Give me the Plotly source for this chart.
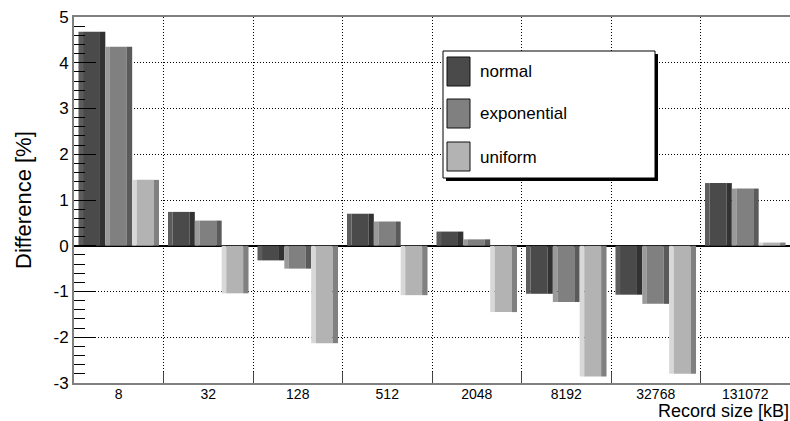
import plotly.graph_objects as go

# ---- data ----
categories = ["8", "32", "128", "512", "2048", "8192", "32768", "131072"]
series_names = ["normal", "exponential", "uniform"]
normal = [4.68, 0.74, -0.32, 0.70, 0.31, -1.05, -1.07, 1.37]
exponential = [4.35, 0.55, -0.50, 0.53, 0.14, -1.23, -1.27, 1.25]
uniform = [1.44, -1.04, -2.13, -1.08, -1.45, -2.86, -2.80, 0.07]
series_values = [normal, exponential, uniform]
y_tick_values = [-3, -2, -1, 0, 1, 2, 3, 4, 5]
y_tick_labels = ["-3", "-2", "-1", "0", "1", "2", "3", "4", "5"]

# colours: (left highlight, body, right shadow)
main_colors = ["#4a4a4a", "#808080", "#b3b3b3"]
left_colors = ["#5c5c5c", "#9a9a9a", "#d8d8d8"]
right_colors = ["#323232", "#5a5a5a", "#808080"]

# ---- layout geometry (pixels) ----
W, H = 790, 421
ML, MR, MT, MB = 74, 0, 17, 38
PW, PH = W - ML - MR, H - MT - MB


def px(x):
    return (x - ML) / PW


def py(y):
    return (H - MB - y) / PH


fig = go.Figure()

bar_w = 0.3
left_frac, right_frac = 0.17, 0.2
start_offsets = [-0.45, -0.15, 0.15]

for i, (name, vals) in enumerate(zip(series_names, series_values)):
    o = start_offsets[i]
    parts = [
        (o, bar_w * left_frac, left_colors[i]),
        (o + bar_w * left_frac, bar_w * (1 - left_frac - right_frac), main_colors[i]),
        (o + bar_w * (1 - right_frac), bar_w * right_frac, right_colors[i]),
    ]
    for off, w, col in parts:
        fig.add_trace(go.Bar(
            x=categories, y=vals, name=name,
            offset=off, width=w,
            marker=dict(color=col, line=dict(width=0)),
            showlegend=False, hoverinfo="x+y+name",
        ))

fig.update_layout(
    width=W, height=H,
    margin=dict(l=ML, r=MR, t=MT, b=MB),
    barmode="overlay",
    paper_bgcolor="white", plot_bgcolor="white",
    font=dict(family="Liberation Sans, Arial, sans-serif", color="black"),
    showlegend=False,
)

fig.update_xaxes(
    type="category", range=[-0.5, 7.5],
    tickson="boundaries", ticks="inside", ticklen=11, tickcolor="#444", tickwidth=1,
    showgrid=True, gridcolor="black", griddash="1px,2px", gridwidth=1,
    showline=True, linecolor="#7f7f7f", linewidth=2, mirror=True,
    tickfont=dict(size=14), ticklabelstandoff=-3,
)
fig.update_yaxes(
    range=[-3, 5], tickmode="array", tickvals=y_tick_values, ticktext=y_tick_labels,
    ticks="inside", ticklen=22, tickcolor="black", tickwidth=1,
    minor=dict(dtick=0.2, tick0=0, ticks="inside", ticklen=11, tickcolor="black", showgrid=False),
    showgrid=True, gridcolor="black", griddash="1px,2px", gridwidth=1,
    zeroline=True, zerolinecolor="black", zerolinewidth=2,
    showline=True, linecolor="#7f7f7f", linewidth=2, mirror=False,
    tickfont=dict(size=17),
)

# axis titles
fig.add_annotation(text="Record size [kB]", xref="paper", yref="paper",
                   x=px(791), y=py(411), xanchor="right", yanchor="middle",
                   showarrow=False, font=dict(size=18))
fig.add_annotation(text="Difference [%]", xref="paper", yref="paper",
                   x=px(23), y=py(200), xanchor="center", yanchor="middle",
                   textangle=-90, showarrow=False, font=dict(size=22))

# legend box (shadow + box)
lx0, ly0, lx1, ly1 = 443, 51, 655, 178
fig.add_shape(type="rect", xref="paper", yref="paper",
              x0=px(lx0 + 3), x1=px(lx1 + 3), y0=py(ly0 + 3), y1=py(ly1 + 3),
              fillcolor="black", line=dict(width=0), layer="above")
fig.add_shape(type="rect", xref="paper", yref="paper",
              x0=px(lx0), x1=px(lx1), y0=py(ly0), y1=py(ly1),
              fillcolor="white", line=dict(color="black", width=1), layer="above")
sw_tops = [57, 99, 142]
for i, name in enumerate(series_names):
    t = sw_tops[i]
    fig.add_shape(type="rect", xref="paper", yref="paper",
                  x0=px(447), x1=px(470), y0=py(t), y1=py(t + 29),
                  fillcolor=main_colors[i], line=dict(color="#111", width=1), layer="above")
    fig.add_annotation(text=name, xref="paper", yref="paper",
                       x=px(478), y=py(t + 15), xanchor="left", yanchor="middle",
                       showarrow=False, font=dict(size=17))

fig.write_html("out.html")
